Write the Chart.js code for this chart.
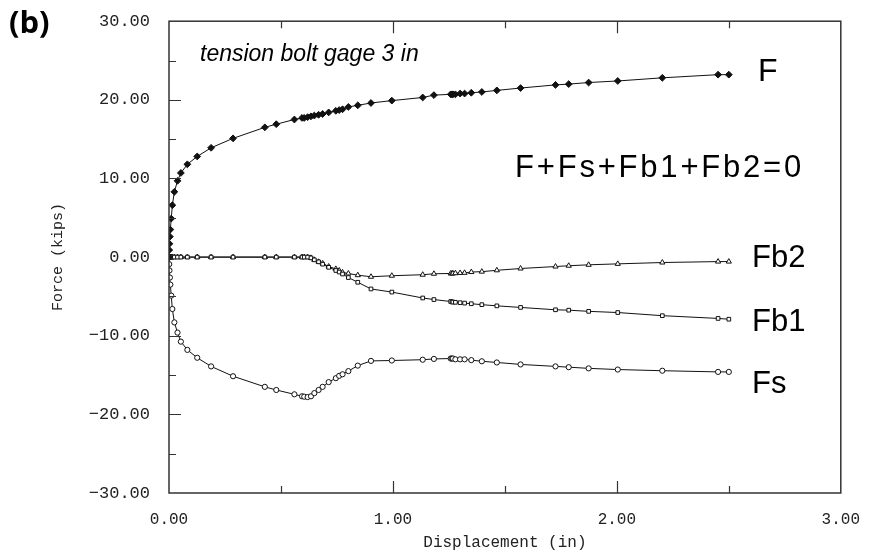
<!DOCTYPE html>
<html>
<head>
<meta charset="utf-8">
<script src="https://cdn.jsdelivr.net/npm/chart.js@4.4.0/dist/chart.umd.min.js"></script>
<style>
html, body { margin: 0; padding: 0; background: #fff; }
</style>
</head>
<body>
<canvas id="forceChart" width="869" height="554"></canvas>
<script>
// displacement (in), shared by all four force series
const disp = [0, 0.001, 0.002, 0.004, 0.006, 0.010, 0.015, 0.024, 0.038, 0.053,
  0.082, 0.126, 0.188, 0.286, 0.428, 0.479, 0.560, 0.594, 0.604, 0.619,
  0.634, 0.649, 0.668, 0.686, 0.713, 0.745, 0.760, 0.775, 0.801, 0.843,
  0.902, 0.995, 1.133, 1.183, 1.258, 1.264, 1.268, 1.279, 1.300, 1.320,
  1.350, 1.397, 1.464, 1.570, 1.726, 1.785, 1.874, 2.004, 2.203, 2.452, 2.500];

// forces (kips)
const forceF = [0, 0.9, 1.7, 2.6, 3.5, 4.9, 6.6, 8.3, 9.7, 10.7,
  11.8, 12.8, 13.9, 15.1, 16.5, 16.9, 17.5, 17.7, 17.7, 17.8,
  17.9, 18.0, 18.1, 18.2, 18.4, 18.6, 18.7, 18.8, 19.1, 19.3,
  19.6, 19.9, 20.3, 20.6, 20.7, 20.7, 20.7, 20.7, 20.8, 20.8,
  20.9, 21.0, 21.2, 21.5, 21.9, 22.0, 22.2, 22.4, 22.8, 23.2, 23.2];
const forceFs = [0, -0.9, -1.7, -2.6, -3.5, -4.9, -6.6, -8.3, -9.6, -10.75,
  -11.8, -12.8, -13.9, -15.15, -16.5, -16.9, -17.45, -17.7, -17.75, -17.8,
  -17.7, -17.3, -16.9, -16.5, -15.9, -15.4, -15.1, -14.9, -14.5, -13.8,
  -13.2, -13.15, -13.05, -12.95, -12.9, -12.9, -12.9, -13.0, -13.0, -13.0,
  -13.1, -13.25, -13.4, -13.65, -13.9, -14.0, -14.15, -14.3, -14.45, -14.6, -14.6];
const forceFb1 = [0, 0, 0, 0, 0, 0, 0, 0, 0, 0,
  0, 0, 0, 0, 0, 0, 0, 0, 0, 0,
  -0.1, -0.35, -0.6, -0.9, -1.3, -1.7, -1.9, -2.15, -2.6, -3.2,
  -4.05, -4.45, -5.2, -5.4, -5.65, -5.7, -5.72, -5.75, -5.8, -5.85,
  -5.93, -6.05, -6.2, -6.4, -6.7, -6.75, -6.9, -7.05, -7.45, -7.8, -7.9];
const forceFb2 = [0, 0, 0, 0, 0, 0, 0, 0, 0, 0,
  0, 0, 0, 0, 0, 0, 0, 0, 0, 0,
  -0.1, -0.35, -0.6, -0.8, -1.2, -1.5, -1.7, -1.95, -2.08, -2.3,
  -2.5, -2.37, -2.24, -2.12, -2.08, -2.08, -2.07, -2.05, -2.02, -2.0,
  -1.9, -1.85, -1.68, -1.45, -1.2, -1.1, -0.98, -0.86, -0.69, -0.57, -0.57];

const xTickValues = [0, 1, 2, 3];
const yTickValues = [-30, -20, -10, 0, 10, 20, 30];

const ink = '#111';
const monoFont = '"Liberation Mono", "DejaVu Sans Mono", monospace';

function series(vals, style, radius, fill) {
  return {
    data: disp.map((d, i) => ({ x: d, y: vals[i] })),
    showLine: true,
    borderColor: ink,
    borderWidth: 1,
    pointStyle: style,
    pointRadius: radius,
    pointBorderWidth: 1,
    pointBackgroundColor: fill,
    pointBorderColor: ink
  };
}

function fmt(v) {
  return v.toFixed(2).replace('-', '\u2212');
}

// frame with inward ticks on all four sides
const frameTicks = {
  id: 'frameTicks',
  afterDatasetsDraw(chart) {
    const { ctx, chartArea: a, scales: { x, y } } = chart;
    ctx.save();
    ctx.strokeStyle = '#333';
    ctx.lineWidth = 1.5;
    ctx.strokeRect(a.left, a.top, a.right - a.left, a.bottom - a.top);
    ctx.lineWidth = 1.2;
    ctx.beginPath();
    for (let v = 5; v < 30; v += 5) {
      for (const s of [1, -1]) {
        const py = Math.round(y.getPixelForValue(s * v)) + 0.5;
        const len = v % 10 === 0 ? 12 : 7;
        ctx.moveTo(a.left, py);
        ctx.lineTo(a.left + len, py);
      }
    }
    for (let v = 0.5; v < 3; v += 0.5) {
      const px = Math.round(x.getPixelForValue(v)) + 0.5;
      const len = v % 1 === 0 ? 12 : 7;
      ctx.moveTo(px, a.bottom);
      ctx.lineTo(px, a.bottom - len);
      ctx.moveTo(px, a.top);
      ctx.lineTo(px, a.top + len);
    }
    ctx.stroke();
    ctx.restore();
  }
};

const notes = [
  { text: '(b)', x: 9, y: 33, font: 'bold 31px "Open Sans", "Liberation Sans", sans-serif' },
  { text: 'tension bolt gage 3 in', x: 200, y: 61, font: 'italic 23px "Liberation Sans", Arial, sans-serif' },
  { text: 'F', x: 758, y: 81, font: '32px "Liberation Sans", Arial, sans-serif' },
  { text: 'F+Fs+Fb1+Fb2=0', x: 515, y: 177, font: '31px "Liberation Sans", Arial, sans-serif', spacing: '2.8px' },
  { text: 'Fb2', x: 752, y: 267, font: '31px "Liberation Sans", Arial, sans-serif' },
  { text: 'Fb1', x: 752, y: 331, font: '31px "Liberation Sans", Arial, sans-serif' },
  { text: 'Fs', x: 752, y: 393, font: '31px "Liberation Sans", Arial, sans-serif' }
];

const textNotes = {
  id: 'textNotes',
  afterDraw(chart) {
    const ctx = chart.ctx;
    ctx.save();
    ctx.fillStyle = '#000';
    ctx.textBaseline = 'alphabetic';
    for (const n of notes) {
      ctx.font = n.font;
      ctx.letterSpacing = n.spacing || '0px';
      ctx.fillText(n.text, n.x, n.y);
    }
    ctx.restore();
  }
};

const canvasElement = document.getElementById('forceChart');

const config = {
  type: 'scatter',
  data: {
    datasets: [
      series(forceF, 'rectRot', 3.4, ink),
      series(forceFs, 'circle', 2.6, '#fff'),
      series(forceFb1, 'rect', 2.6, '#fff'),
      series(forceFb2, 'triangle', 3, '#fff')
    ]
  },
  options: {
    responsive: false,
    animation: false,
    layout: { padding: { left: 0, right: 25, top: 16, bottom: 0 } },
    plugins: {
      legend: { display: false },
      tooltip: { enabled: false }
    },
    scales: {
      x: {
        type: 'linear',
        min: 0,
        max: 3,
        afterFit: s => { s.height = 61; },
        afterBuildTicks: s => { s.ticks = xTickValues.map(v => ({ value: v })); },
        grid: { display: false },
        border: { display: false },
        ticks: {
          padding: 9,
          color: '#222',
          font: { family: monoFont, size: 16 },
          maxRotation: 0,
          callback: v => fmt(v)
        },
        title: {
          display: true,
          text: 'Displacement (in)',
          color: '#222',
          font: { family: monoFont, size: 16 },
          padding: { top: 0, bottom: 2 }
        }
      },
      y: {
        type: 'linear',
        min: -30,
        max: 30,
        afterFit: s => { s.width = 169; },
        afterBuildTicks: s => { s.ticks = yTickValues.map(v => ({ value: v })); },
        grid: { display: false },
        border: { display: false },
        ticks: {
          padding: 11,
          color: '#222',
          font: { family: monoFont, size: 17 },
          callback: v => fmt(v)
        },
        title: {
          display: true,
          text: 'Force (kips)',
          color: '#222',
          font: { family: monoFont, size: 15 },
          padding: { top: 49, bottom: 0 }
        }
      }
    }
  },
  plugins: [frameTicks, textNotes]
};

const forceChart = new Chart(canvasElement, config);
</script>
</body>
</html>
